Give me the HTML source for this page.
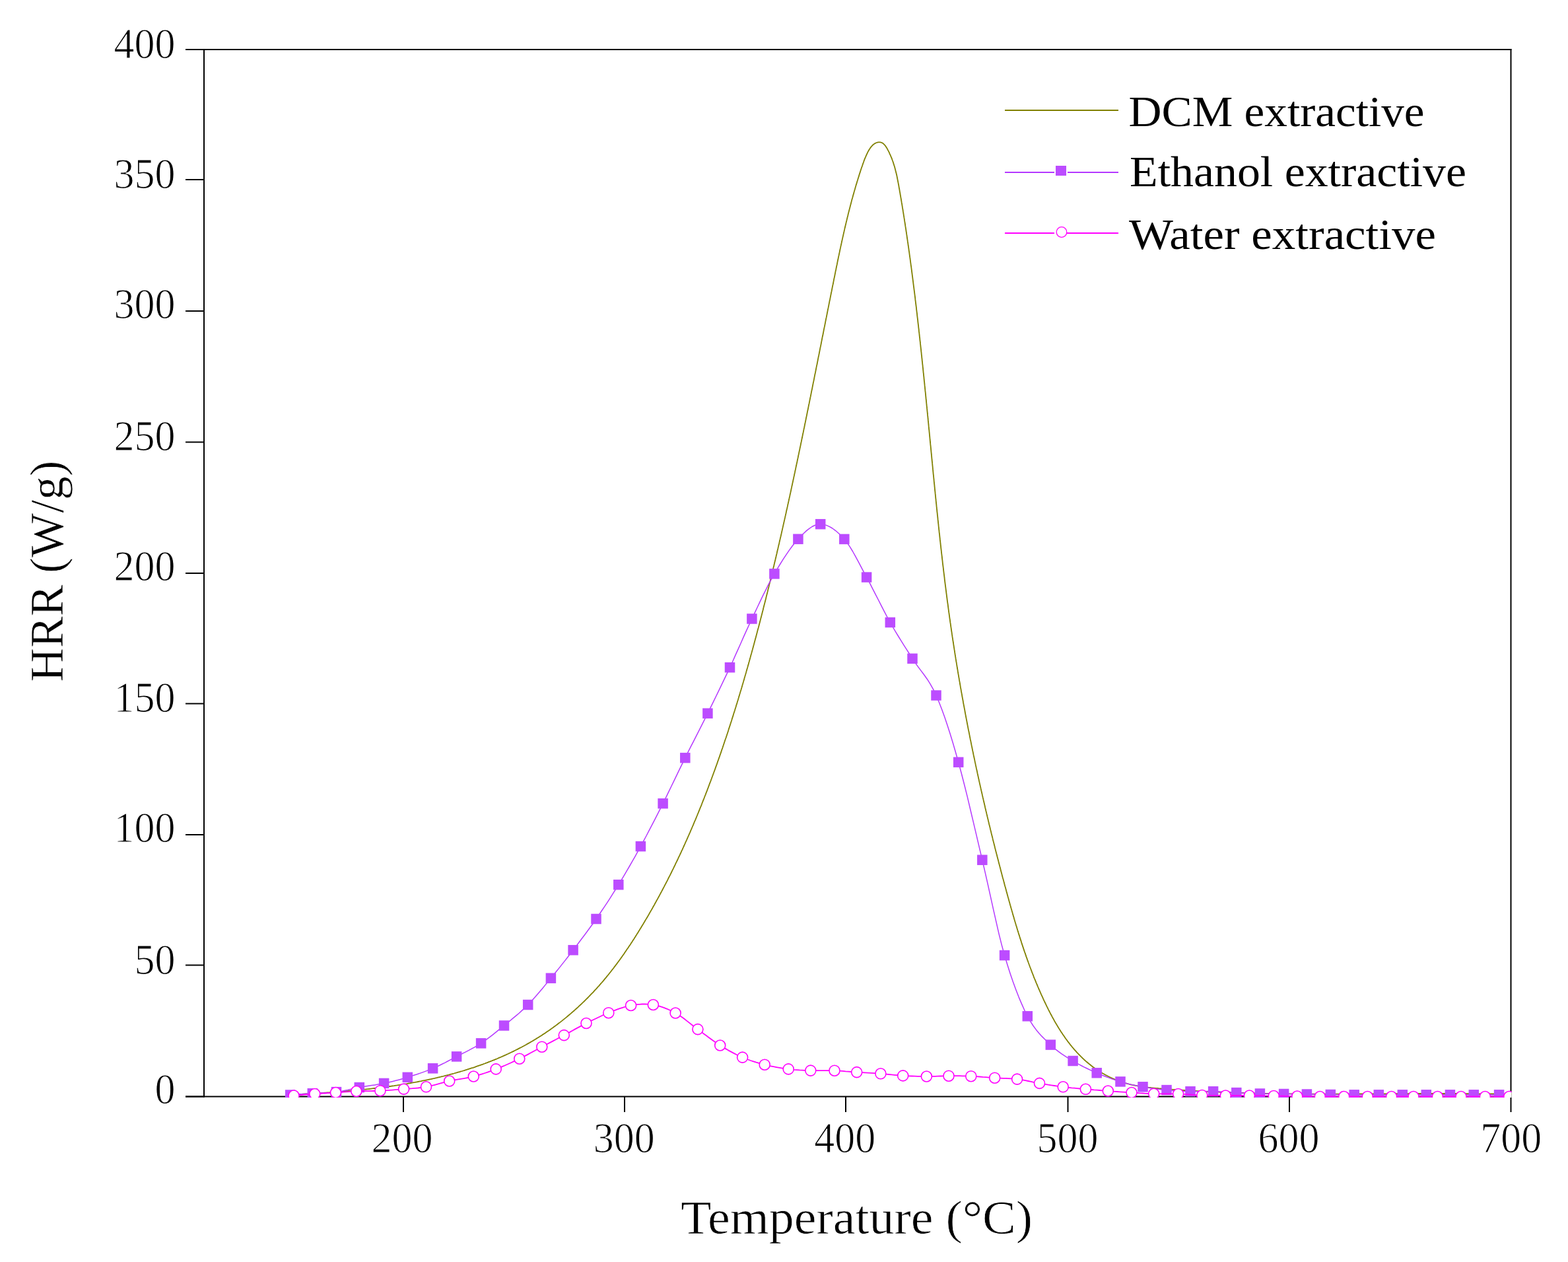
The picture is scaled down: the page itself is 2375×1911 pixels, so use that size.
<!DOCTYPE html>
<html><head><meta charset="utf-8"><title>HRR vs Temperature</title>
<style>html,body{margin:0;padding:0;background:#fff;}svg{display:block;}</style>
</head><body>
<svg width="2375" height="1911" viewBox="0 0 2375 1911">
<rect x="0" y="0" width="2375" height="1911" fill="#fff"/>
<defs><clipPath id="pc"><rect x="309.0" y="75.0" width="1980.5" height="1587.0"/></clipPath></defs>
<g stroke="#000" stroke-width="2" fill="none">
<line x1="309.0" y1="74.0" x2="309.0" y2="1661.5"/>
<line x1="2288.5" y1="74.0" x2="2288.5" y2="1661.5"/>
<line x1="281.0" y1="75.0" x2="2289.5" y2="75.0"/>
<line x1="281.0" y1="1660.5" x2="2288.5" y2="1660.5"/>
<line x1="281.0" y1="1660.5" x2="309.0" y2="1660.5"/>
<line x1="281.0" y1="1461.5" x2="309.0" y2="1461.5"/>
<line x1="281.0" y1="1264.0" x2="309.0" y2="1264.0"/>
<line x1="281.0" y1="1065.5" x2="309.0" y2="1065.5"/>
<line x1="281.0" y1="868.0" x2="309.0" y2="868.0"/>
<line x1="281.0" y1="669.5" x2="309.0" y2="669.5"/>
<line x1="281.0" y1="471.0" x2="309.0" y2="471.0"/>
<line x1="281.0" y1="272.0" x2="309.0" y2="272.0"/>
<line x1="281.0" y1="75.0" x2="309.0" y2="75.0"/>
<line x1="611.0" y1="1660.5" x2="611.0" y2="1684"/>
<line x1="946.0" y1="1660.5" x2="946.0" y2="1684"/>
<line x1="1281.0" y1="1660.5" x2="1281.0" y2="1684"/>
<line x1="1617.5" y1="1660.5" x2="1617.5" y2="1684"/>
<line x1="1953.0" y1="1660.5" x2="1953.0" y2="1684"/>
<line x1="2288.5" y1="1660.5" x2="2288.5" y2="1684"/>
</g>
<g clip-path="url(#pc)">
<polyline points="440.2,1657.7 441.8,1657.6 443.3,1657.5 444.9,1657.4 446.5,1657.4 448.0,1657.3 449.6,1657.2 451.1,1657.1 452.7,1657.0 454.3,1657.0 455.8,1656.9 457.4,1656.8 459.0,1656.7 460.5,1656.6 462.1,1656.5 463.7,1656.5 465.2,1656.4 466.8,1656.3 468.4,1656.2 469.9,1656.1 471.5,1656.0 473.1,1655.9 474.7,1655.8 476.2,1655.7 477.8,1655.6 479.4,1655.5 481.0,1655.5 482.6,1655.4 484.1,1655.3 485.7,1655.2 487.3,1655.1 488.9,1655.0 490.5,1654.8 492.0,1654.7 493.6,1654.6 495.2,1654.5 496.8,1654.4 498.4,1654.3 500.0,1654.2 501.5,1654.1 503.1,1654.0 504.7,1653.9 506.3,1653.7 507.9,1653.6 509.5,1653.5 511.1,1653.4 512.6,1653.3 514.2,1653.1 515.8,1653.0 517.4,1652.9 519.0,1652.8 520.6,1652.6 522.2,1652.5 523.8,1652.4 525.4,1652.2 527.0,1652.1 528.6,1651.9 530.1,1651.8 531.7,1651.7 533.3,1651.5 534.9,1651.4 536.5,1651.2 538.1,1651.1 539.7,1650.9 541.3,1650.8 542.9,1650.6 544.5,1650.5 546.1,1650.3 547.7,1650.1 549.2,1650.0 550.8,1649.8 552.4,1649.6 554.0,1649.5 555.6,1649.3 557.2,1649.1 558.8,1649.0 560.4,1648.8 562.0,1648.6 563.6,1648.4 565.2,1648.2 566.8,1648.0 568.4,1647.9 569.9,1647.7 571.5,1647.5 573.1,1647.3 574.7,1647.1 576.3,1646.9 577.9,1646.7 579.5,1646.5 581.1,1646.3 582.7,1646.1 584.3,1645.9 585.8,1645.6 587.4,1645.4 589.0,1645.2 590.6,1645.0 592.2,1644.8 593.8,1644.5 595.4,1644.3 597.0,1644.1 598.5,1643.8 600.1,1643.6 601.7,1643.4 603.3,1643.1 604.9,1642.9 606.5,1642.6 608.0,1642.4 609.6,1642.1 611.2,1641.9 612.8,1641.6 614.4,1641.3 615.9,1641.1 617.5,1640.8 619.1,1640.5 620.7,1640.3 622.2,1640.0 623.8,1639.7 625.4,1639.4 627.0,1639.1 628.5,1638.9 630.1,1638.6 631.7,1638.3 633.3,1638.0 634.8,1637.7 636.4,1637.4 638.0,1637.1 639.5,1636.7 641.1,1636.4 642.7,1636.1 644.2,1635.8 645.8,1635.5 647.4,1635.2 648.9,1634.8 650.5,1634.5 652.0,1634.2 653.6,1633.8 655.1,1633.5 656.7,1633.1 658.3,1632.8 659.8,1632.4 661.4,1632.1 662.9,1631.7 664.5,1631.3 666.0,1631.0 667.6,1630.6 669.1,1630.2 670.7,1629.9 672.2,1629.5 673.7,1629.1 675.3,1628.7 676.8,1628.3 678.4,1627.9 679.9,1627.5 681.4,1627.1 683.0,1626.7 684.5,1626.3 686.0,1625.9 687.6,1625.5 689.1,1625.0 690.6,1624.6 692.2,1624.2 693.7,1623.7 695.2,1623.3 696.7,1622.9 698.2,1622.4 699.8,1622.0 701.3,1621.5 702.8,1621.1 704.3,1620.6 705.8,1620.1 707.3,1619.7 708.9,1619.2 710.4,1618.7 711.9,1618.2 713.4,1617.7 714.9,1617.2 716.4,1616.8 717.9,1616.3 719.4,1615.8 720.9,1615.2 722.4,1614.7 723.9,1614.2 725.3,1613.7 726.8,1613.2 728.3,1612.6 729.8,1612.1 731.3,1611.6 732.8,1611.0 734.3,1610.5 735.7,1609.9 737.2,1609.4 738.7,1608.8 740.2,1608.2 741.6,1607.7 743.1,1607.1 744.6,1606.5 746.0,1605.9 747.5,1605.4 748.9,1604.8 750.4,1604.2 751.9,1603.6 753.3,1603.0 754.8,1602.3 756.2,1601.7 757.7,1601.1 759.1,1600.5 760.5,1599.9 762.0,1599.2 763.4,1598.6 764.9,1597.9 766.3,1597.3 767.7,1596.6 769.2,1596.0 770.6,1595.3 772.0,1594.6 773.4,1594.0 774.8,1593.3 776.3,1592.6 777.7,1591.9 779.1,1591.2 780.5,1590.5 781.9,1589.8 783.3,1589.1 784.7,1588.4 786.1,1587.6 787.5,1586.9 788.9,1586.2 790.3,1585.5 791.7,1584.7 793.1,1584.0 794.5,1583.2 795.9,1582.5 797.2,1581.7 798.6,1580.9 800.0,1580.1 801.4,1579.4 802.7,1578.6 804.1,1577.8 805.5,1577.0 806.8,1576.2 808.2,1575.4 809.5,1574.6 810.9,1573.8 812.2,1572.9 813.6,1572.1 814.9,1571.3 816.3,1570.4 817.6,1569.6 819.0,1568.7 820.3,1567.9 821.6,1567.0 822.9,1566.1 824.3,1565.3 825.6,1564.4 826.9,1563.5 828.2,1562.6 829.5,1561.7 830.9,1560.8 832.2,1559.9 833.5,1559.0 834.8,1558.1 836.1,1557.1 837.4,1556.2 838.6,1555.3 839.9,1554.3 841.2,1553.4 842.5,1552.4 843.8,1551.5 845.0,1550.5 846.3,1549.5 847.6,1548.6 848.9,1547.6 850.1,1546.6 851.4,1545.6 852.6,1544.6 853.9,1543.6 855.1,1542.6 856.4,1541.6 857.6,1540.6 858.8,1539.6 860.1,1538.5 861.3,1537.5 862.5,1536.5 863.8,1535.4 865.0,1534.4 866.2,1533.3 867.4,1532.3 868.6,1531.2 869.8,1530.2 871.0,1529.1 872.2,1528.0 873.4,1527.0 874.6,1525.9 875.8,1524.8 876.9,1523.7 878.1,1522.6 879.3,1521.5 880.5,1520.4 881.6,1519.3 882.8,1518.2 883.9,1517.1 885.1,1516.0 886.2,1514.9 887.4,1513.7 888.5,1512.6 889.6,1511.5 890.8,1510.3 891.9,1509.2 893.0,1508.0 894.1,1506.9 895.2,1505.7 896.3,1504.6 897.5,1503.4 898.6,1502.3 899.6,1501.1 900.7,1499.9 901.8,1498.7 902.9,1497.6 904.0,1496.4 905.0,1495.2 906.1,1494.0 907.2,1492.8 908.2,1491.6 909.3,1490.4 910.3,1489.2 911.4,1488.0 912.4,1486.8 913.5,1485.6 914.5,1484.4 915.5,1483.1 916.5,1481.9 917.6,1480.7 918.6,1479.4 919.6,1478.2 920.6,1477.0 921.6,1475.7 922.6,1474.5 923.6,1473.2 924.6,1472.0 925.6,1470.7 926.5,1469.5 927.5,1468.2 928.5,1467.0 929.5,1465.7 930.4,1464.4 931.4,1463.2 932.4,1461.9 933.3,1460.6 934.3,1459.4 935.2,1458.1 936.2,1456.8 937.1,1455.5 938.1,1454.2 939.0,1452.9 939.9,1451.7 940.8,1450.4 941.8,1449.1 942.7,1447.8 943.6,1446.5 944.5,1445.2 945.4,1443.9 946.3,1442.5 947.2,1441.2 948.1,1439.9 949.0,1438.6 949.9,1437.3 950.8,1436.0 951.7,1434.7 952.6,1433.3 953.5,1432.0 954.4,1430.7 955.3,1429.4 956.1,1428.0 957.0,1426.7 957.9,1425.4 958.7,1424.0 959.6,1422.7 960.5,1421.4 961.3,1420.0 962.2,1418.7 963.0,1417.3 963.9,1416.0 964.7,1414.6 965.6,1413.3 966.4,1412.0 967.2,1410.6 968.1,1409.3 968.9,1407.9 969.7,1406.5 970.6,1405.2 971.4,1403.8 972.2,1402.5 973.1,1401.1 973.9,1399.8 974.7,1398.4 975.5,1397.0 976.3,1395.7 977.1,1394.3 977.9,1392.9 978.7,1391.6 979.6,1390.2 980.4,1388.8 981.2,1387.5 982.0,1386.1 982.8,1384.7 983.5,1383.4 984.3,1382.0 985.1,1380.6 985.9,1379.2 986.7,1377.9 987.5,1376.5 988.3,1375.1 989.0,1373.7 989.8,1372.3 990.6,1371.0 991.4,1369.6 992.1,1368.2 992.9,1366.8 993.7,1365.4 994.4,1364.0 995.2,1362.6 996.0,1361.2 996.7,1359.9 997.5,1358.5 998.2,1357.1 999.0,1355.7 999.7,1354.3 1000.5,1352.9 1001.2,1351.5 1002.0,1350.1 1002.7,1348.7 1003.5,1347.3 1004.2,1345.9 1004.9,1344.5 1005.7,1343.1 1006.4,1341.7 1007.1,1340.3 1007.9,1338.9 1008.6,1337.5 1009.3,1336.1 1010.1,1334.7 1010.8,1333.3 1011.5,1331.9 1012.2,1330.4 1012.9,1329.0 1013.6,1327.6 1014.4,1326.2 1015.1,1324.8 1015.8,1323.4 1016.5,1322.0 1017.2,1320.5 1017.9,1319.1 1018.6,1317.7 1019.3,1316.3 1020.0,1314.9 1020.7,1313.4 1021.4,1312.0 1022.1,1310.6 1022.8,1309.2 1023.4,1307.7 1024.1,1306.3 1024.8,1304.9 1025.5,1303.5 1026.2,1302.0 1026.9,1300.6 1027.5,1299.2 1028.2,1297.7 1028.9,1296.3 1029.6,1294.9 1030.2,1293.5 1030.9,1292.0 1031.6,1290.6 1032.2,1289.1 1032.9,1287.7 1033.6,1286.3 1034.2,1284.8 1034.9,1283.4 1035.5,1282.0 1036.2,1280.5 1036.8,1279.1 1037.5,1277.6 1038.1,1276.2 1038.8,1274.7 1039.4,1273.3 1040.1,1271.8 1040.7,1270.4 1041.4,1269.0 1042.0,1267.5 1042.6,1266.1 1043.3,1264.6 1043.9,1263.2 1044.6,1261.7 1045.2,1260.3 1045.8,1258.8 1046.4,1257.3 1047.1,1255.9 1047.7,1254.4 1048.3,1253.0 1048.9,1251.5 1049.6,1250.1 1050.2,1248.6 1050.8,1247.1 1051.4,1245.7 1052.0,1244.2 1052.6,1242.8 1053.3,1241.3 1053.9,1239.8 1054.5,1238.4 1055.1,1236.9 1055.7,1235.5 1056.3,1234.0 1056.9,1232.5 1057.5,1231.1 1058.1,1229.6 1058.7,1228.1 1059.3,1226.6 1059.9,1225.2 1060.5,1223.7 1061.1,1222.2 1061.7,1220.8 1062.3,1219.3 1062.9,1217.8 1063.4,1216.3 1064.0,1214.9 1064.6,1213.4 1065.2,1211.9 1065.8,1210.4 1066.4,1209.0 1066.9,1207.5 1067.5,1206.0 1068.1,1204.5 1068.7,1203.1 1069.2,1201.6 1069.8,1200.1 1070.4,1198.6 1071.0,1197.1 1071.5,1195.6 1072.1,1194.2 1072.7,1192.7 1073.2,1191.2 1073.8,1189.7 1074.3,1188.2 1074.9,1186.7 1075.5,1185.2 1076.0,1183.8 1076.6,1182.3 1077.1,1180.8 1077.7,1179.3 1078.2,1177.8 1078.8,1176.3 1079.3,1174.8 1079.9,1173.3 1080.4,1171.8 1081.0,1170.3 1081.5,1168.8 1082.1,1167.4 1082.6,1165.9 1083.2,1164.4 1083.7,1162.9 1084.2,1161.4 1084.8,1159.9 1085.3,1158.4 1085.9,1156.9 1086.4,1155.4 1086.9,1153.9 1087.4,1152.4 1088.0,1150.9 1088.5,1149.4 1089.0,1147.9 1089.6,1146.4 1090.1,1144.9 1090.6,1143.4 1091.1,1141.9 1091.7,1140.4 1092.2,1138.9 1092.7,1137.4 1093.2,1135.8 1093.7,1134.3 1094.3,1132.8 1094.8,1131.3 1095.3,1129.8 1095.8,1128.3 1096.3,1126.8 1096.8,1125.3 1097.3,1123.8 1097.8,1122.3 1098.3,1120.8 1098.8,1119.3 1099.4,1117.7 1099.9,1116.2 1100.4,1114.7 1100.9,1113.2 1101.4,1111.7 1101.9,1110.2 1102.4,1108.7 1102.9,1107.2 1103.4,1105.6 1103.8,1104.1 1104.3,1102.6 1104.8,1101.1 1105.3,1099.6 1105.8,1098.1 1106.3,1096.5 1106.8,1095.0 1107.3,1093.5 1107.8,1092.0 1108.3,1090.5 1108.7,1088.9 1109.2,1087.4 1109.7,1085.9 1110.2,1084.4 1110.7,1082.9 1111.1,1081.3 1111.6,1079.8 1112.1,1078.3 1112.6,1076.8 1113.1,1075.3 1113.5,1073.7 1114.0,1072.2 1114.5,1070.7 1114.9,1069.2 1115.4,1067.6 1115.9,1066.1 1116.4,1064.6 1116.8,1063.1 1117.3,1061.5 1117.8,1060.0 1118.2,1058.5 1118.7,1057.0 1119.1,1055.4 1119.6,1053.9 1120.1,1052.4 1120.5,1050.8 1121.0,1049.3 1121.4,1047.8 1121.9,1046.3 1122.4,1044.7 1122.8,1043.2 1123.3,1041.7 1123.7,1040.1 1124.2,1038.6 1124.6,1037.1 1125.1,1035.5 1125.5,1034.0 1126.0,1032.5 1126.4,1030.9 1126.9,1029.4 1127.3,1027.9 1127.7,1026.3 1128.2,1024.8 1128.6,1023.3 1129.1,1021.7 1129.5,1020.2 1130.0,1018.7 1130.4,1017.1 1130.8,1015.6 1131.3,1014.1 1131.7,1012.5 1132.2,1011.0 1132.6,1009.5 1133.0,1007.9 1133.5,1006.4 1133.9,1004.9 1134.3,1003.3 1134.8,1001.8 1135.2,1000.2 1135.6,998.7 1136.0,997.2 1136.5,995.6 1136.9,994.1 1137.3,992.6 1137.7,991.0 1138.2,989.5 1138.6,987.9 1139.0,986.4 1139.4,984.9 1139.9,983.3 1140.3,981.8 1140.7,980.2 1141.1,978.7 1141.5,977.2 1142.0,975.6 1142.4,974.1 1142.8,972.5 1143.2,971.0 1143.6,969.5 1144.0,967.9 1144.5,966.4 1144.9,964.8 1145.3,963.3 1145.7,961.8 1146.1,960.2 1146.5,958.7 1146.9,957.1 1147.3,955.6 1147.7,954.1 1148.1,952.5 1148.6,951.0 1149.0,949.4 1149.4,947.9 1149.8,946.3 1150.2,944.8 1150.6,943.3 1151.0,941.7 1151.4,940.2 1151.8,938.6 1152.2,937.1 1152.6,935.5 1153.0,934.0 1153.4,932.5 1153.8,930.9 1154.2,929.4 1154.6,927.8 1155.0,926.3 1155.4,924.7 1155.8,923.2 1156.1,921.7 1156.5,920.1 1156.9,918.6 1157.3,917.0 1157.7,915.5 1158.1,913.9 1158.5,912.4 1158.9,910.8 1159.3,909.3 1159.7,907.8 1160.1,906.2 1160.4,904.7 1160.8,903.1 1161.2,901.6 1161.6,900.0 1162.0,898.5 1162.4,896.9 1162.8,895.4 1163.1,893.9 1163.5,892.3 1163.9,890.8 1164.3,889.2 1164.7,887.7 1165.0,886.1 1165.4,884.6 1165.8,883.0 1166.2,881.5 1166.6,879.9 1166.9,878.4 1167.3,876.8 1167.7,875.3 1168.1,873.8 1168.4,872.2 1168.8,870.7 1169.2,869.1 1169.6,867.6 1169.9,866.0 1170.3,864.5 1170.7,862.9 1171.0,861.4 1171.4,859.8 1171.8,858.3 1172.2,856.7 1172.5,855.2 1172.9,853.6 1173.3,852.1 1173.6,850.6 1174.0,849.0 1174.4,847.5 1174.7,845.9 1175.1,844.4 1175.5,842.8 1175.8,841.3 1176.2,839.7 1176.6,838.2 1176.9,836.6 1177.3,835.1 1177.6,833.5 1178.0,832.0 1178.4,830.4 1178.7,828.9 1179.1,827.3 1179.4,825.8 1179.8,824.2 1180.2,822.7 1180.5,821.1 1180.9,819.6 1181.2,818.0 1181.6,816.5 1181.9,814.9 1182.3,813.4 1182.7,811.8 1183.0,810.3 1183.4,808.7 1183.7,807.2 1184.1,805.6 1184.4,804.1 1184.8,802.5 1185.1,801.0 1185.5,799.4 1185.8,797.9 1186.2,796.3 1186.5,794.8 1186.9,793.2 1187.2,791.7 1187.6,790.1 1187.9,788.6 1188.3,787.0 1188.6,785.5 1189.0,783.9 1189.3,782.4 1189.7,780.8 1190.0,779.3 1190.4,777.7 1190.7,776.2 1191.0,774.6 1191.4,773.1 1191.7,771.5 1192.1,770.0 1192.4,768.4 1192.8,766.9 1193.1,765.3 1193.4,763.8 1193.8,762.2 1194.1,760.7 1194.5,759.1 1194.8,757.6 1195.1,756.0 1195.5,754.5 1195.8,752.9 1196.2,751.4 1196.5,749.8 1196.8,748.3 1197.2,746.7 1197.5,745.2 1197.9,743.6 1198.2,742.1 1198.5,740.5 1198.9,738.9 1199.2,737.4 1199.5,735.8 1199.9,734.3 1200.2,732.7 1200.5,731.2 1200.9,729.6 1201.2,728.1 1201.5,726.5 1201.9,725.0 1202.2,723.4 1202.5,721.9 1202.9,720.3 1203.2,718.8 1203.5,717.2 1203.9,715.7 1204.2,714.1 1204.5,712.5 1204.9,711.0 1205.2,709.4 1205.5,707.9 1205.8,706.3 1206.2,704.8 1206.5,703.2 1206.8,701.7 1207.2,700.1 1207.5,698.6 1207.8,697.0 1208.1,695.5 1208.5,693.9 1208.8,692.3 1209.1,690.8 1209.4,689.2 1209.8,687.7 1210.1,686.1 1210.4,684.6 1210.7,683.0 1211.1,681.5 1211.4,679.9 1211.7,678.4 1212.0,676.8 1212.4,675.2 1212.7,673.7 1213.0,672.1 1213.3,670.6 1213.7,669.0 1214.0,667.5 1214.3,665.9 1214.6,664.4 1215.0,662.8 1215.3,661.2 1215.6,659.7 1215.9,658.1 1216.2,656.6 1216.6,655.0 1216.9,653.5 1217.2,651.9 1217.5,650.4 1217.8,648.8 1218.2,647.2 1218.5,645.7 1218.8,644.1 1219.1,642.6 1219.4,641.0 1219.8,639.5 1220.1,637.9 1220.4,636.4 1220.7,634.8 1221.0,633.2 1221.3,631.7 1221.7,630.1 1222.0,628.6 1222.3,627.0 1222.6,625.5 1222.9,623.9 1223.2,622.3 1223.6,620.8 1223.9,619.2 1224.2,617.7 1224.5,616.1 1224.8,614.6 1225.1,613.0 1225.5,611.4 1225.8,609.9 1226.1,608.3 1226.4,606.8 1226.7,605.2 1227.0,603.7 1227.3,602.1 1227.7,600.5 1228.0,599.0 1228.3,597.4 1228.6,595.9 1228.9,594.3 1229.2,592.8 1229.5,591.2 1229.9,589.6 1230.2,588.1 1230.5,586.5 1230.8,585.0 1231.1,583.4 1231.4,581.9 1231.7,580.3 1232.0,578.7 1232.4,577.2 1232.7,575.6 1233.0,574.1 1233.3,572.5 1233.6,570.9 1233.9,569.4 1234.2,567.8 1234.5,566.3 1234.9,564.7 1235.2,563.2 1235.5,561.6 1235.8,560.0 1236.1,558.5 1236.4,556.9 1236.7,555.4 1237.0,553.8 1237.4,552.2 1237.7,550.7 1238.0,549.1 1238.3,547.6 1238.6,546.0 1238.9,544.4 1239.2,542.9 1239.5,541.3 1239.8,539.8 1240.2,538.2 1240.5,536.6 1240.8,535.1 1241.1,533.5 1241.4,532.0 1241.7,530.4 1242.0,528.9 1242.3,527.3 1242.6,525.7 1243.0,524.2 1243.3,522.6 1243.6,521.1 1243.9,519.5 1244.2,517.9 1244.5,516.4 1244.8,514.8 1245.1,513.3 1245.4,511.7 1245.7,510.1 1246.1,508.6 1246.4,507.0 1246.7,505.5 1247.0,503.9 1247.3,502.3 1247.6,500.8 1247.9,499.2 1248.2,497.7 1248.5,496.1 1248.9,494.5 1249.2,493.0 1249.5,491.4 1249.8,489.9 1250.1,488.3 1250.4,486.7 1250.7,485.2 1251.0,483.6 1251.3,482.1 1251.7,480.5 1252.0,478.9 1252.3,477.4 1252.6,475.8 1252.9,474.2 1253.2,472.7 1253.5,471.1 1253.8,469.6 1254.1,468.0 1254.5,466.4 1254.8,464.9 1255.1,463.3 1255.4,461.8 1255.7,460.2 1256.0,458.6 1256.3,457.1 1256.6,455.5 1257.0,454.0 1257.3,452.4 1257.6,450.8 1257.9,449.3 1258.2,447.7 1258.5,446.2 1258.8,444.6 1259.1,443.0 1259.5,441.5 1259.8,439.9 1260.1,438.3 1260.4,436.8 1260.7,435.2 1261.0,433.7 1261.3,432.1 1261.7,430.5 1262.0,429.0 1262.3,427.4 1262.6,425.9 1262.9,424.3 1263.2,422.7 1263.5,421.2 1263.9,419.6 1264.2,418.0 1264.5,416.5 1264.8,414.9 1265.1,413.4 1265.4,411.8 1265.7,410.2 1266.1,408.7 1266.4,407.1 1266.7,405.5 1267.0,404.0 1267.3,402.4 1267.7,400.9 1268.0,399.3 1268.3,397.7 1268.6,396.2 1268.9,394.6 1269.3,393.1 1269.6,391.5 1269.9,389.9 1270.2,388.4 1270.6,386.8 1270.9,385.3 1271.2,383.7 1271.6,382.1 1271.9,380.6 1272.2,379.0 1272.5,377.5 1272.9,375.9 1273.2,374.4 1273.5,372.8 1273.9,371.2 1274.2,369.7 1274.6,368.1 1274.9,366.6 1275.2,365.0 1275.6,363.5 1275.9,361.9 1276.3,360.3 1276.6,358.8 1277.0,357.2 1277.3,355.7 1277.7,354.1 1278.0,352.6 1278.4,351.0 1278.7,349.5 1279.1,347.9 1279.4,346.4 1279.8,344.8 1280.2,343.3 1280.5,341.7 1280.9,340.2 1281.3,338.6 1281.6,337.1 1282.0,335.5 1282.4,334.0 1282.7,332.4 1283.1,330.9 1283.5,329.3 1283.9,327.8 1284.3,326.2 1284.6,324.7 1285.0,323.1 1285.4,321.6 1285.8,320.0 1286.2,318.5 1286.6,317.0 1287.0,315.4 1287.4,313.9 1287.8,312.3 1288.2,310.8 1288.6,309.2 1289.0,307.7 1289.4,306.2 1289.8,304.6 1290.2,303.1 1290.6,301.6 1291.1,300.0 1291.5,298.5 1291.9,297.0 1292.3,295.4 1292.8,293.9 1293.2,292.4 1293.6,290.8 1294.1,289.3 1294.5,287.8 1295.0,286.2 1295.4,284.7 1295.8,283.2 1296.3,281.6 1296.7,280.1 1297.2,278.6 1297.7,277.1 1298.1,275.5 1298.6,274.0 1299.1,272.5 1299.5,271.0 1300.0,269.5 1300.5,267.9 1301.0,266.4 1301.4,264.9 1301.9,263.4 1302.4,261.9 1302.9,260.4 1303.4,258.8 1303.9,257.3 1304.4,255.8 1304.9,254.3 1305.4,252.8 1306.0,251.3 1306.5,249.8 1307.0,248.3 1307.5,246.8 1308.1,245.3 1308.6,243.7 1309.2,242.2 1309.7,240.8 1310.3,239.3 1311.0,237.8 1311.6,236.3 1312.3,234.8 1313.0,233.3 1313.7,231.8 1314.4,230.4 1315.2,228.9 1316.0,227.5 1316.9,226.0 1317.8,224.7 1318.7,223.3 1319.7,222.1 1320.8,220.9 1321.8,219.8 1323.0,218.8 1324.2,217.9 1325.4,217.1 1326.6,216.5 1327.9,216.0 1329.2,215.6 1330.4,215.4 1331.7,215.3 1333.0,215.4 1334.2,215.6 1335.4,216.0 1336.6,216.6 1337.7,217.3 1338.8,218.3 1339.8,219.3 1340.8,220.5 1341.7,221.8 1342.6,223.2 1343.5,224.6 1344.3,226.1 1345.1,227.7 1345.9,229.2 1346.7,230.7 1347.4,232.3 1348.1,233.8 1348.8,235.3 1349.4,236.9 1350.1,238.4 1350.7,239.9 1351.3,241.5 1351.8,243.0 1352.4,244.5 1352.9,246.1 1353.4,247.6 1353.9,249.2 1354.4,250.7 1354.9,252.2 1355.3,253.8 1355.7,255.3 1356.1,256.9 1356.5,258.4 1356.9,259.9 1357.3,261.5 1357.7,263.0 1358.0,264.6 1358.4,266.1 1358.7,267.7 1359.0,269.2 1359.3,270.7 1359.6,272.3 1359.9,273.8 1360.2,275.4 1360.5,276.9 1360.8,278.5 1361.1,280.0 1361.4,281.6 1361.6,283.1 1361.9,284.7 1362.2,286.2 1362.5,287.8 1362.7,289.3 1363.0,290.9 1363.3,292.4 1363.5,294.0 1363.8,295.5 1364.1,297.1 1364.3,298.6 1364.6,300.2 1364.9,301.7 1365.1,303.3 1365.4,304.8 1365.6,306.4 1365.9,307.9 1366.2,309.5 1366.4,311.0 1366.7,312.6 1366.9,314.2 1367.2,315.7 1367.4,317.3 1367.7,318.8 1367.9,320.4 1368.2,321.9 1368.4,323.5 1368.7,325.1 1368.9,326.6 1369.2,328.2 1369.4,329.7 1369.7,331.3 1369.9,332.9 1370.1,334.4 1370.4,336.0 1370.6,337.5 1370.9,339.1 1371.1,340.7 1371.3,342.2 1371.6,343.8 1371.8,345.3 1372.1,346.9 1372.3,348.5 1372.5,350.0 1372.8,351.6 1373.0,353.2 1373.2,354.7 1373.5,356.3 1373.7,357.9 1373.9,359.4 1374.1,361.0 1374.4,362.6 1374.6,364.1 1374.8,365.7 1375.1,367.3 1375.3,368.8 1375.5,370.4 1375.7,372.0 1376.0,373.5 1376.2,375.1 1376.4,376.7 1376.6,378.2 1376.8,379.8 1377.1,381.4 1377.3,382.9 1377.5,384.5 1377.7,386.1 1377.9,387.7 1378.1,389.2 1378.4,390.8 1378.6,392.4 1378.8,393.9 1379.0,395.5 1379.2,397.1 1379.4,398.7 1379.6,400.2 1379.8,401.8 1380.1,403.4 1380.3,405.0 1380.5,406.5 1380.7,408.1 1380.9,409.7 1381.1,411.3 1381.3,412.8 1381.5,414.4 1381.7,416.0 1381.9,417.6 1382.1,419.1 1382.3,420.7 1382.5,422.3 1382.7,423.9 1382.9,425.4 1383.1,427.0 1383.3,428.6 1383.5,430.2 1383.7,431.8 1383.9,433.3 1384.1,434.9 1384.3,436.5 1384.5,438.1 1384.7,439.6 1384.9,441.2 1385.1,442.8 1385.3,444.4 1385.5,446.0 1385.7,447.5 1385.9,449.1 1386.1,450.7 1386.3,452.3 1386.4,453.9 1386.6,455.4 1386.8,457.0 1387.0,458.6 1387.2,460.2 1387.4,461.8 1387.6,463.4 1387.8,464.9 1388.0,466.5 1388.1,468.1 1388.3,469.7 1388.5,471.3 1388.7,472.8 1388.9,474.4 1389.1,476.0 1389.2,477.6 1389.4,479.2 1389.6,480.8 1389.8,482.3 1390.0,483.9 1390.2,485.5 1390.3,487.1 1390.5,488.7 1390.7,490.3 1390.9,491.9 1391.1,493.4 1391.2,495.0 1391.4,496.6 1391.6,498.2 1391.8,499.8 1391.9,501.4 1392.1,502.9 1392.3,504.5 1392.5,506.1 1392.6,507.7 1392.8,509.3 1393.0,510.9 1393.2,512.5 1393.3,514.0 1393.5,515.6 1393.7,517.2 1393.9,518.8 1394.0,520.4 1394.2,522.0 1394.4,523.6 1394.5,525.2 1394.7,526.7 1394.9,528.3 1395.1,529.9 1395.2,531.5 1395.4,533.1 1395.6,534.7 1395.7,536.3 1395.9,537.9 1396.1,539.4 1396.2,541.0 1396.4,542.6 1396.6,544.2 1396.7,545.8 1396.9,547.4 1397.1,549.0 1397.2,550.6 1397.4,552.1 1397.6,553.7 1397.7,555.3 1397.9,556.9 1398.1,558.5 1398.2,560.1 1398.4,561.7 1398.5,563.3 1398.7,564.9 1398.9,566.4 1399.0,568.0 1399.2,569.6 1399.4,571.2 1399.5,572.8 1399.7,574.4 1399.8,576.0 1400.0,577.6 1400.2,579.2 1400.3,580.7 1400.5,582.3 1400.6,583.9 1400.8,585.5 1401.0,587.1 1401.1,588.7 1401.3,590.3 1401.4,591.9 1401.6,593.5 1401.8,595.0 1401.9,596.6 1402.1,598.2 1402.2,599.8 1402.4,601.4 1402.5,603.0 1402.7,604.6 1402.9,606.2 1403.0,607.8 1403.2,609.4 1403.3,610.9 1403.5,612.5 1403.6,614.1 1403.8,615.7 1404.0,617.3 1404.1,618.9 1404.3,620.5 1404.4,622.1 1404.6,623.7 1404.7,625.2 1404.9,626.8 1405.0,628.4 1405.2,630.0 1405.4,631.6 1405.5,633.2 1405.7,634.8 1405.8,636.4 1406.0,638.0 1406.1,639.5 1406.3,641.1 1406.4,642.7 1406.6,644.3 1406.7,645.9 1406.9,647.5 1407.0,649.1 1407.2,650.7 1407.4,652.2 1407.5,653.8 1407.7,655.4 1407.8,657.0 1408.0,658.6 1408.1,660.2 1408.3,661.8 1408.4,663.4 1408.6,664.9 1408.7,666.5 1408.9,668.1 1409.0,669.7 1409.2,671.3 1409.3,672.9 1409.5,674.5 1409.7,676.1 1409.8,677.6 1410.0,679.2 1410.1,680.8 1410.3,682.4 1410.4,684.0 1410.6,685.6 1410.7,687.2 1410.9,688.8 1411.0,690.3 1411.2,691.9 1411.3,693.5 1411.5,695.1 1411.6,696.7 1411.8,698.3 1412.0,699.8 1412.1,701.4 1412.3,703.0 1412.4,704.6 1412.6,706.2 1412.7,707.8 1412.9,709.4 1413.0,710.9 1413.2,712.5 1413.3,714.1 1413.5,715.7 1413.6,717.3 1413.8,718.9 1414.0,720.5 1414.1,722.0 1414.3,723.6 1414.4,725.2 1414.6,726.8 1414.7,728.4 1414.9,730.0 1415.0,731.5 1415.2,733.1 1415.4,734.7 1415.5,736.3 1415.7,737.9 1415.8,739.5 1416.0,741.0 1416.1,742.6 1416.3,744.2 1416.5,745.8 1416.6,747.4 1416.8,749.0 1416.9,750.5 1417.1,752.1 1417.2,753.7 1417.4,755.3 1417.6,756.9 1417.7,758.4 1417.9,760.0 1418.0,761.6 1418.2,763.2 1418.4,764.8 1418.5,766.4 1418.7,767.9 1418.8,769.5 1419.0,771.1 1419.2,772.7 1419.3,774.3 1419.5,775.8 1419.7,777.4 1419.8,779.0 1420.0,780.6 1420.2,782.2 1420.3,783.7 1420.5,785.3 1420.6,786.9 1420.8,788.5 1421.0,790.1 1421.1,791.6 1421.3,793.2 1421.5,794.8 1421.6,796.4 1421.8,798.0 1422.0,799.5 1422.1,801.1 1422.3,802.7 1422.5,804.3 1422.6,805.9 1422.8,807.4 1423.0,809.0 1423.2,810.6 1423.3,812.2 1423.5,813.8 1423.7,815.3 1423.8,816.9 1424.0,818.5 1424.2,820.1 1424.4,821.6 1424.5,823.2 1424.7,824.8 1424.9,826.4 1425.1,828.0 1425.2,829.5 1425.4,831.1 1425.6,832.7 1425.8,834.3 1425.9,835.8 1426.1,837.4 1426.3,839.0 1426.5,840.6 1426.7,842.2 1426.8,843.7 1427.0,845.3 1427.2,846.9 1427.4,848.5 1427.6,850.0 1427.7,851.6 1427.9,853.2 1428.1,854.8 1428.3,856.3 1428.5,857.9 1428.7,859.5 1428.9,861.1 1429.0,862.7 1429.2,864.2 1429.4,865.8 1429.6,867.4 1429.8,869.0 1430.0,870.5 1430.2,872.1 1430.4,873.7 1430.6,875.3 1430.7,876.8 1430.9,878.4 1431.1,880.0 1431.3,881.6 1431.5,883.1 1431.7,884.7 1431.9,886.3 1432.1,887.9 1432.3,889.4 1432.5,891.0 1432.7,892.6 1432.9,894.2 1433.1,895.7 1433.3,897.3 1433.5,898.9 1433.7,900.4 1433.9,902.0 1434.1,903.6 1434.3,905.2 1434.5,906.7 1434.7,908.3 1434.9,909.9 1435.1,911.5 1435.3,913.0 1435.6,914.6 1435.8,916.2 1436.0,917.8 1436.2,919.3 1436.4,920.9 1436.6,922.5 1436.8,924.0 1437.0,925.6 1437.2,927.2 1437.5,928.8 1437.7,930.3 1437.9,931.9 1438.1,933.5 1438.3,935.1 1438.5,936.6 1438.8,938.2 1439.0,939.8 1439.2,941.3 1439.4,942.9 1439.7,944.5 1439.9,946.1 1440.1,947.6 1440.3,949.2 1440.6,950.8 1440.8,952.3 1441.0,953.9 1441.2,955.5 1441.5,957.1 1441.7,958.6 1441.9,960.2 1442.2,961.8 1442.4,963.3 1442.6,964.9 1442.9,966.5 1443.1,968.0 1443.3,969.6 1443.6,971.2 1443.8,972.8 1444.1,974.3 1444.3,975.9 1444.5,977.5 1444.8,979.0 1445.0,980.6 1445.3,982.2 1445.5,983.7 1445.8,985.3 1446.0,986.9 1446.2,988.4 1446.5,990.0 1446.7,991.6 1447.0,993.2 1447.2,994.7 1447.5,996.3 1447.7,997.9 1448.0,999.4 1448.2,1001.0 1448.5,1002.6 1448.8,1004.1 1449.0,1005.7 1449.3,1007.3 1449.5,1008.8 1449.8,1010.4 1450.0,1012.0 1450.3,1013.5 1450.6,1015.1 1450.8,1016.7 1451.1,1018.2 1451.3,1019.8 1451.6,1021.4 1451.9,1022.9 1452.1,1024.5 1452.4,1026.1 1452.7,1027.6 1452.9,1029.2 1453.2,1030.8 1453.5,1032.4 1453.8,1033.9 1454.0,1035.5 1454.3,1037.1 1454.6,1038.6 1454.8,1040.2 1455.1,1041.7 1455.4,1043.3 1455.7,1044.9 1455.9,1046.4 1456.2,1048.0 1456.5,1049.6 1456.8,1051.1 1457.1,1052.7 1457.3,1054.3 1457.6,1055.8 1457.9,1057.4 1458.2,1059.0 1458.5,1060.5 1458.8,1062.1 1459.0,1063.7 1459.3,1065.2 1459.6,1066.8 1459.9,1068.4 1460.2,1069.9 1460.5,1071.5 1460.8,1073.1 1461.1,1074.6 1461.4,1076.2 1461.6,1077.8 1461.9,1079.3 1462.2,1080.9 1462.5,1082.4 1462.8,1084.0 1463.1,1085.6 1463.4,1087.1 1463.7,1088.7 1464.0,1090.3 1464.3,1091.8 1464.6,1093.4 1464.9,1095.0 1465.2,1096.5 1465.5,1098.1 1465.8,1099.6 1466.1,1101.2 1466.4,1102.8 1466.7,1104.3 1467.0,1105.9 1467.4,1107.5 1467.7,1109.0 1468.0,1110.6 1468.3,1112.1 1468.6,1113.7 1468.9,1115.3 1469.2,1116.8 1469.5,1118.4 1469.8,1120.0 1470.2,1121.5 1470.5,1123.1 1470.8,1124.6 1471.1,1126.2 1471.4,1127.8 1471.7,1129.3 1472.1,1130.9 1472.4,1132.5 1472.7,1134.0 1473.0,1135.6 1473.3,1137.1 1473.7,1138.7 1474.0,1140.3 1474.3,1141.8 1474.6,1143.4 1475.0,1144.9 1475.3,1146.5 1475.6,1148.1 1476.0,1149.6 1476.3,1151.2 1476.6,1152.8 1476.9,1154.3 1477.3,1155.9 1477.6,1157.4 1477.9,1159.0 1478.3,1160.6 1478.6,1162.1 1478.9,1163.7 1479.3,1165.2 1479.6,1166.8 1480.0,1168.4 1480.3,1169.9 1480.6,1171.5 1481.0,1173.0 1481.3,1174.6 1481.7,1176.2 1482.0,1177.7 1482.3,1179.3 1482.7,1180.8 1483.0,1182.4 1483.4,1183.9 1483.7,1185.5 1484.1,1187.1 1484.4,1188.6 1484.8,1190.2 1485.1,1191.7 1485.5,1193.3 1485.8,1194.9 1486.2,1196.4 1486.5,1198.0 1486.9,1199.5 1487.2,1201.1 1487.6,1202.6 1487.9,1204.2 1488.3,1205.8 1488.6,1207.3 1489.0,1208.9 1489.4,1210.4 1489.7,1212.0 1490.1,1213.5 1490.4,1215.1 1490.8,1216.6 1491.2,1218.2 1491.5,1219.8 1491.9,1221.3 1492.2,1222.9 1492.6,1224.4 1493.0,1226.0 1493.3,1227.5 1493.7,1229.1 1494.1,1230.6 1494.4,1232.2 1494.8,1233.7 1495.2,1235.3 1495.5,1236.8 1495.9,1238.4 1496.3,1239.9 1496.7,1241.5 1497.0,1243.0 1497.4,1244.6 1497.8,1246.2 1498.1,1247.7 1498.5,1249.3 1498.9,1250.8 1499.3,1252.4 1499.7,1253.9 1500.0,1255.5 1500.4,1257.0 1500.8,1258.6 1501.2,1260.1 1501.5,1261.6 1501.9,1263.2 1502.3,1264.7 1502.7,1266.3 1503.1,1267.8 1503.5,1269.4 1503.8,1270.9 1504.2,1272.5 1504.6,1274.0 1505.0,1275.6 1505.4,1277.1 1505.8,1278.7 1506.2,1280.2 1506.6,1281.8 1506.9,1283.3 1507.3,1284.8 1507.7,1286.4 1508.1,1287.9 1508.5,1289.5 1508.9,1291.0 1509.3,1292.6 1509.7,1294.1 1510.1,1295.6 1510.5,1297.2 1510.9,1298.7 1511.3,1300.3 1511.7,1301.8 1512.1,1303.3 1512.5,1304.9 1512.9,1306.4 1513.3,1308.0 1513.7,1309.5 1514.1,1311.0 1514.5,1312.6 1514.9,1314.1 1515.3,1315.6 1515.7,1317.2 1516.1,1318.7 1516.5,1320.3 1516.9,1321.8 1517.3,1323.3 1517.7,1324.9 1518.1,1326.4 1518.5,1327.9 1518.9,1329.5 1519.4,1331.0 1519.8,1332.5 1520.2,1334.1 1520.6,1335.6 1521.0,1337.1 1521.4,1338.7 1521.8,1340.2 1522.2,1341.7 1522.7,1343.2 1523.1,1344.8 1523.5,1346.3 1523.9,1347.8 1524.3,1349.4 1524.7,1350.9 1525.2,1352.4 1525.6,1353.9 1526.0,1355.5 1526.4,1357.0 1526.8,1358.5 1527.3,1360.0 1527.7,1361.6 1528.1,1363.1 1528.5,1364.6 1529.0,1366.1 1529.4,1367.7 1529.8,1369.2 1530.2,1370.7 1530.7,1372.2 1531.1,1373.7 1531.5,1375.3 1532.0,1376.8 1532.4,1378.3 1532.8,1379.8 1533.3,1381.3 1533.7,1382.9 1534.1,1384.4 1534.6,1385.9 1535.0,1387.4 1535.5,1388.9 1535.9,1390.4 1536.3,1392.0 1536.8,1393.5 1537.2,1395.0 1537.7,1396.5 1538.1,1398.0 1538.6,1399.5 1539.0,1401.0 1539.5,1402.5 1540.0,1404.1 1540.4,1405.6 1540.9,1407.1 1541.3,1408.6 1541.8,1410.1 1542.3,1411.6 1542.7,1413.1 1543.2,1414.6 1543.7,1416.1 1544.2,1417.6 1544.6,1419.1 1545.1,1420.6 1545.6,1422.1 1546.1,1423.6 1546.6,1425.1 1547.0,1426.6 1547.5,1428.1 1548.0,1429.6 1548.5,1431.1 1549.0,1432.6 1549.5,1434.1 1550.0,1435.6 1550.5,1437.1 1551.0,1438.6 1551.5,1440.1 1552.0,1441.6 1552.6,1443.1 1553.1,1444.6 1553.6,1446.1 1554.1,1447.6 1554.6,1449.1 1555.2,1450.6 1555.7,1452.1 1556.2,1453.6 1556.8,1455.1 1557.3,1456.5 1557.8,1458.0 1558.4,1459.5 1558.9,1461.0 1559.5,1462.5 1560.0,1464.0 1560.6,1465.5 1561.2,1467.0 1561.7,1468.4 1562.3,1469.9 1562.8,1471.4 1563.4,1472.9 1564.0,1474.4 1564.6,1475.8 1565.2,1477.3 1565.7,1478.8 1566.3,1480.3 1566.9,1481.8 1567.5,1483.2 1568.1,1484.7 1568.7,1486.2 1569.3,1487.7 1569.9,1489.1 1570.6,1490.6 1571.2,1492.1 1571.8,1493.6 1572.4,1495.0 1573.0,1496.5 1573.7,1498.0 1574.3,1499.4 1575.0,1500.9 1575.6,1502.4 1576.3,1503.8 1576.9,1505.3 1577.6,1506.8 1578.2,1508.2 1578.9,1509.7 1579.6,1511.2 1580.2,1512.6 1580.9,1514.1 1581.6,1515.6 1582.3,1517.0 1583.0,1518.5 1583.7,1519.9 1584.4,1521.4 1585.1,1522.8 1585.8,1524.3 1586.5,1525.7 1587.2,1527.2 1587.9,1528.6 1588.7,1530.1 1589.4,1531.5 1590.1,1532.9 1590.9,1534.4 1591.6,1535.8 1592.4,1537.2 1593.2,1538.6 1593.9,1540.1 1594.7,1541.5 1595.5,1542.9 1596.3,1544.3 1597.0,1545.7 1597.8,1547.1 1598.6,1548.5 1599.5,1549.9 1600.3,1551.3 1601.1,1552.6 1601.9,1554.0 1602.8,1555.4 1603.6,1556.8 1604.4,1558.1 1605.3,1559.5 1606.2,1560.8 1607.0,1562.2 1607.9,1563.5 1608.8,1564.8 1609.7,1566.2 1610.6,1567.5 1611.5,1568.8 1612.4,1570.1 1613.3,1571.4 1614.2,1572.7 1615.2,1574.0 1616.1,1575.3 1617.0,1576.6 1618.0,1577.8 1619.0,1579.1 1619.9,1580.3 1620.9,1581.6 1621.9,1582.8 1622.9,1584.0 1623.9,1585.3 1624.9,1586.5 1625.9,1587.7 1626.9,1588.9 1628.0,1590.1 1629.0,1591.2 1630.1,1592.4 1631.1,1593.6 1632.2,1594.7 1633.3,1595.9 1634.4,1597.0 1635.5,1598.1 1636.6,1599.2 1637.7,1600.3 1638.8,1601.4 1639.9,1602.5 1641.1,1603.6 1642.2,1604.7 1643.4,1605.7 1644.6,1606.8 1645.7,1607.8 1646.9,1608.8 1648.1,1609.8 1649.3,1610.8 1650.6,1611.8 1651.8,1612.8 1653.0,1613.8 1654.3,1614.7 1655.5,1615.7 1656.8,1616.6 1658.1,1617.5 1659.4,1618.4 1660.7,1619.3 1662.0,1620.2 1663.3,1621.1 1664.6,1621.9 1666.0,1622.8 1667.3,1623.6 1668.7,1624.4 1670.0,1625.2 1671.4,1626.0 1672.8,1626.8 1674.1,1627.6 1675.5,1628.3 1676.9,1629.0 1678.4,1629.8 1679.8,1630.5 1681.2,1631.2 1682.6,1631.9 1684.1,1632.5 1685.5,1633.2 1687.0,1633.8 1688.4,1634.4 1689.9,1635.0 1691.4,1635.6 1692.8,1636.2 1694.3,1636.8 1695.8,1637.3 1697.3,1637.8 1698.8,1638.4 1700.3,1638.9 1701.8,1639.3 1703.3,1639.8 1704.9,1640.3 1706.4,1640.7 1707.9,1641.1 1709.5,1641.5 1711.0,1641.9 1712.5,1642.3 1714.1,1642.6 1715.6,1643.0 1717.2,1643.3 1718.8,1643.6 1720.3,1643.9 1721.9,1644.2 1723.5,1644.5 1725.0,1644.7 1726.6,1645.0 1728.2,1645.2 1729.8,1645.5 1731.3,1645.7 1732.9,1645.9 1734.5,1646.1 1736.1,1646.3 1737.7,1646.5 1739.3,1646.7 1740.9,1646.8 1742.5,1647.0 1744.1,1647.2 1745.7,1647.3 1747.3,1647.5 1748.9,1647.6 1750.5,1647.8 1752.1,1647.9 1753.7,1648.0 1755.3,1648.2 1756.9,1648.3 1758.5,1648.4 1760.1,1648.6 1761.7,1648.7 1763.3,1648.8 1764.9,1648.9 1766.5,1649.0 1768.1,1649.2 1769.7,1649.3 1771.3,1649.4 1772.9,1649.5 1774.5,1649.6 1776.1,1649.8 1777.7,1649.9 1779.3,1650.0 1780.9,1650.1 1782.5,1650.2 1784.1,1650.3 1785.7,1650.4 1787.3,1650.5 1788.9,1650.6 1790.5,1650.7 1792.1,1650.9 1793.7,1651.0 1795.3,1651.1 1796.9,1651.2 1798.5,1651.3 1800.1,1651.4 1801.7,1651.4 1803.3,1651.5 1804.9,1651.6 1806.4,1651.7 1808.0,1651.8 1809.6,1651.9 1811.2,1652.0 1812.8,1652.1 1814.4,1652.2 1816.0,1652.3 1817.6,1652.4 1819.2,1652.4 1820.8,1652.5 1822.4,1652.6 1824.0,1652.7 1825.6,1652.8 1827.2,1652.8 1828.8,1652.9 1830.4,1653.0 1832.0,1653.1 1833.6,1653.1 1835.2,1653.2 1836.7,1653.3 1838.3,1653.4 1839.9,1653.4 1841.5,1653.5 1843.1,1653.6 1844.7,1653.6 1846.3,1653.7 1847.9,1653.8 1849.5,1653.8 1851.1,1653.9 1852.7,1654.0 1854.3,1654.0 1855.9,1654.1 1857.5,1654.2 1859.0,1654.2 1860.6,1654.3 1862.2,1654.3 1863.8,1654.4 1865.4,1654.4 1867.0,1654.5 1868.6,1654.6 1870.2,1654.6 1871.8,1654.7 1873.4,1654.7 1875.0,1654.8 1876.5,1654.8 1878.1,1654.9 1879.7,1654.9 1881.3,1655.0 1882.9,1655.0 1884.5,1655.1 1886.1,1655.1 1887.7,1655.1 1889.3,1655.2 1890.9,1655.2 1892.4,1655.3 1894.0,1655.3 1895.6,1655.4 1897.2,1655.4 1898.8,1655.4 1900.4,1655.5 1902.0,1655.5 1903.6,1655.5 1905.2,1655.6 1906.7,1655.6 1908.3,1655.6 1909.9,1655.7 1911.5,1655.7 1913.1,1655.7 1914.7,1655.8 1916.3,1655.8 1917.9,1655.8 1919.4,1655.9 1921.0,1655.9 1922.6,1655.9 1924.2,1656.0 1925.8,1656.0 1927.4,1656.0 1929.0,1656.0 1930.6,1656.1 1932.1,1656.1 1933.7,1656.1 1935.3,1656.1 1936.9,1656.1 1938.5,1656.2 1940.1,1656.2 1941.7,1656.2 1943.3,1656.2 1944.8,1656.3 1946.4,1656.3 1948.0,1656.3 1949.6,1656.3 1951.2,1656.3 1952.8,1656.3 1954.4,1656.4 1955.9,1656.4 1957.5,1656.4 1959.1,1656.4 1960.7,1656.4 1962.3,1656.4 1963.9,1656.4 1965.5,1656.5 1967.1,1656.5 1968.6,1656.5 1970.2,1656.5 1971.8,1656.5 1973.4,1656.5 1975.0,1656.5 1976.6,1656.5 1978.2,1656.5 1979.7,1656.5 1981.3,1656.5 1982.9,1656.6 1984.5,1656.6 1986.1,1656.6 1987.7,1656.6 1989.3,1656.6 1990.8,1656.6 1992.4,1656.6 1994.0,1656.6 1995.6,1656.6 1997.2,1656.6 1998.8,1656.6 2000.4,1656.6 2001.9,1656.6 2003.5,1656.6 2005.1,1656.6 2006.7,1656.6 2008.3,1656.6 2009.9,1656.6 2011.5,1656.6 2013.0,1656.6 2014.6,1656.6 2016.2,1656.6 2017.8,1656.6 2019.4,1656.6 2021.0,1656.6 2022.6,1656.6 2024.1,1656.6 2025.7,1656.6 2027.3,1656.6 2028.9,1656.6 2030.5,1656.6 2032.1,1656.6 2033.7,1656.6 2035.2,1656.6 2036.8,1656.6 2038.4,1656.6 2040.0,1656.6 2041.6,1656.6 2043.2,1656.6 2044.8,1656.5 2046.3,1656.5 2047.9,1656.5 2049.5,1656.5 2051.1,1656.5 2052.7,1656.5 2054.3,1656.5 2055.9,1656.5 2057.4,1656.5 2059.0,1656.5 2060.6,1656.5 2062.2,1656.5 2063.8,1656.5 2065.4,1656.5 2067.0,1656.5 2068.6,1656.4 2070.1,1656.4 2071.7,1656.4 2073.3,1656.4 2074.9,1656.4 2076.5,1656.4 2078.1,1656.4 2079.7,1656.4 2081.2,1656.4 2082.8,1656.4 2084.4,1656.4 2086.0,1656.4 2087.6,1656.3 2089.2,1656.3 2090.8,1656.3 2092.4,1656.3 2093.9,1656.3 2095.5,1656.3 2097.1,1656.3 2098.7,1656.3 2100.3,1656.3 2101.9,1656.3 2103.5,1656.3 2105.1,1656.2 2106.6,1656.2 2108.2,1656.2 2109.8,1656.2 2111.4,1656.2 2113.0,1656.2 2114.6,1656.2 2116.2,1656.2 2117.8,1656.2 2119.4,1656.2 2120.9,1656.2 2122.5,1656.2 2124.1,1656.1 2125.7,1656.1 2127.3,1656.1 2128.9,1656.1 2130.5,1656.1 2132.1,1656.1 2133.7,1656.1 2135.2,1656.1 2136.8,1656.1 2138.4,1656.1 2140.0,1656.1 2141.6,1656.1 2143.2,1656.1 2144.8,1656.1 2146.4,1656.0 2148.0,1656.0 2149.6,1656.0 2151.1,1656.0 2152.7,1656.0 2154.3,1656.0 2155.9,1656.0 2157.5,1656.0 2159.1,1656.0 2160.7,1656.0 2162.3,1656.0 2163.9,1656.0 2165.5,1656.0 2167.1,1656.0 2168.6,1656.0 2170.2,1656.0 2171.8,1656.0 2173.4,1656.0 2175.0,1656.0 2176.6,1656.0 2178.2,1656.0 2179.8,1656.0 2181.4,1656.0 2183.0,1656.0 2184.6,1656.0 2186.2,1656.0 2187.8,1656.0 2189.3,1656.0 2190.9,1656.0 2192.5,1656.0 2194.1,1656.0 2195.7,1656.0 2197.3,1656.0 2198.9,1656.0 2200.5,1656.0 2202.1,1656.0 2203.7,1656.0 2205.3,1656.0 2206.9,1656.0 2208.5,1656.0 2210.1,1656.0 2211.7,1656.0 2213.3,1656.1 2214.9,1656.1 2216.5,1656.1 2218.1,1656.1 2219.7,1656.1 2221.2,1656.1 2222.8,1656.1 2224.4,1656.1 2226.0,1656.1 2227.6,1656.1 2229.2,1656.2 2230.8,1656.2 2232.4,1656.2 2234.0,1656.2 2235.6,1656.2 2237.2,1656.2 2238.8,1656.2 2240.4,1656.3 2242.0,1656.3 2243.6,1656.3 2245.2,1656.3 2246.8,1656.3 2248.4,1656.3 2250.0,1656.4 2251.6,1656.4 2253.2,1656.4 2254.8,1656.4 2256.4,1656.4 2258.0,1656.5 2259.6,1656.5 2261.2,1656.5 2262.8,1656.5 2264.4,1656.6 2266.0,1656.6 2267.6,1656.6 2269.2,1656.6 2270.8,1656.7 2272.4,1656.7 2274.0,1656.7 2275.6,1656.8 2277.2,1656.8 2278.8,1656.8 2280.4,1656.8 2282.0,1656.9 2283.7,1656.9 2285.3,1656.9 2286.9,1657.0 2288.5,1657.0 2290.1,1657.0" fill="none" stroke="#808000" stroke-width="1.8" stroke-linejoin="round"/>
<polyline points="439.7,1658.0 443.9,1657.7 448.0,1657.4 452.2,1657.1 456.3,1656.8 460.5,1656.5 464.7,1656.3 469.0,1656.0 473.3,1655.7 477.7,1655.5 482.2,1655.3 486.7,1655.1 491.3,1654.9 495.9,1654.7 500.5,1654.5 505.0,1654.1 509.5,1653.6 513.9,1653.0 518.2,1652.2 522.5,1651.3 526.8,1650.4 531.1,1649.4 535.5,1648.4 539.8,1647.5 544.3,1646.6 548.9,1645.8 553.5,1645.1 558.2,1644.3 562.9,1643.6 567.6,1642.9 572.3,1642.1 577.0,1641.3 581.6,1640.4 586.1,1639.4 590.6,1638.4 595.0,1637.4 599.4,1636.3 603.8,1635.2 608.2,1634.0 612.7,1632.7 617.3,1631.3 622.0,1629.9 626.7,1628.3 631.6,1626.8 636.4,1625.1 641.3,1623.4 646.1,1621.6 650.9,1619.7 655.6,1617.8 660.2,1615.8 664.7,1613.7 669.2,1611.5 673.7,1609.3 678.1,1607.0 682.6,1604.6 687.1,1602.3 691.6,1599.9 696.2,1597.5 700.8,1595.2 705.5,1592.8 710.2,1590.4 714.8,1587.9 719.5,1585.3 724.1,1582.6 728.6,1579.8 733.1,1576.8 737.4,1573.7 741.8,1570.4 746.1,1567.1 750.4,1563.7 754.7,1560.2 759.1,1556.6 763.5,1553.0 768.0,1549.3 772.5,1545.7 777.0,1541.9 781.6,1538.1 786.2,1534.2 790.7,1530.1 795.2,1525.9 799.7,1521.5 804.1,1516.9 808.5,1512.1 812.9,1507.1 817.2,1502.0 821.5,1496.9 825.8,1491.6 830.1,1486.4 834.4,1481.2 838.7,1476.0 842.9,1470.8 847.1,1465.6 851.2,1460.4 855.4,1455.1 859.6,1449.7 863.8,1444.3 868.1,1438.7 872.4,1433.1 876.8,1427.3 881.1,1421.5 885.5,1415.7 889.9,1409.7 894.3,1403.7 898.7,1397.7 903.0,1391.5 907.3,1385.3 911.5,1379.0 915.8,1372.7 920.0,1366.3 924.2,1359.8 928.4,1353.2 932.6,1346.5 936.8,1339.7 941.0,1332.8 945.2,1325.8 949.4,1318.7 953.6,1311.5 957.8,1304.2 962.0,1296.8 966.2,1289.2 970.4,1281.6 974.6,1273.8 978.8,1266.0 983.0,1257.9 987.2,1249.8 991.5,1241.6 995.7,1233.4 999.9,1225.1 1004.1,1216.7 1008.3,1208.3 1012.5,1199.7 1016.7,1191.0 1020.9,1182.3 1025.1,1173.6 1029.3,1164.9 1033.6,1156.2 1037.8,1147.6 1042.0,1139.1 1046.3,1130.7 1050.6,1122.3 1054.9,1113.9 1059.1,1105.6 1063.4,1097.2 1067.7,1088.7 1071.9,1080.2 1076.1,1071.6 1080.3,1063.1 1084.5,1054.5 1088.7,1045.8 1092.9,1037.2 1097.1,1028.4 1101.3,1019.6 1105.5,1010.7 1109.7,1001.7 1113.8,992.4 1118.0,983.1 1122.2,973.8 1126.3,964.4 1130.5,955.1 1134.7,946.0 1138.9,937.0 1143.1,928.1 1147.3,919.2 1151.5,910.4 1155.7,901.6 1160.0,893.1 1164.2,884.7 1168.6,876.6 1172.9,868.9 1177.3,861.4 1181.8,854.0 1186.4,846.7 1190.9,839.8 1195.5,833.1 1200.0,827.0 1204.5,821.3 1208.9,816.3 1213.2,811.7 1217.5,807.5 1221.6,803.6 1225.8,800.3 1230.0,797.5 1234.1,795.5 1238.4,794.2 1242.7,793.7 1247.1,794.1 1251.6,795.4 1256.2,797.4 1260.8,800.0 1265.3,803.3 1269.9,807.2 1274.4,811.6 1278.8,816.4 1283.1,821.9 1287.4,828.1 1291.6,835.0 1295.7,842.4 1299.9,850.1 1304.1,858.1 1308.3,866.1 1312.6,874.1 1317.0,882.2 1321.4,890.8 1325.9,899.6 1330.5,908.5 1335.0,917.4 1339.5,926.1 1343.9,934.5 1348.3,942.5 1352.6,950.0 1356.8,957.1 1361.0,964.0 1365.1,970.7 1369.3,977.3 1373.5,983.9 1377.7,990.5 1382.0,997.3 1386.4,1003.9 1390.9,1010.1 1395.4,1016.1 1400.0,1022.2 1404.6,1028.7 1409.1,1035.9 1413.6,1043.9 1418.0,1053.0 1422.3,1063.2 1426.5,1074.0 1430.7,1085.6 1434.8,1097.8 1439.0,1110.8 1443.2,1124.5 1447.4,1139.0 1451.7,1154.2 1456.1,1170.5 1460.6,1188.0 1465.2,1206.4 1469.7,1225.5 1474.3,1244.9 1478.9,1264.4 1483.4,1283.6 1487.8,1302.2 1492.1,1320.8 1496.4,1339.8 1500.6,1358.9 1504.8,1377.9 1509.0,1396.4 1513.1,1414.3 1517.3,1431.1 1521.6,1446.6 1525.9,1461.0 1530.2,1474.5 1534.5,1487.1 1538.9,1499.0 1543.2,1510.1 1547.6,1520.4 1551.9,1530.0 1556.3,1538.8 1560.7,1546.7 1565.1,1553.5 1569.5,1559.4 1573.9,1564.7 1578.2,1569.4 1582.6,1573.7 1587.0,1577.9 1591.3,1582.1 1595.6,1586.1 1599.8,1589.7 1604.0,1592.9 1608.1,1595.9 1612.3,1598.6 1616.5,1601.3 1620.8,1603.9 1625.1,1606.5 1629.5,1609.1 1634.0,1611.6 1638.5,1614.0 1643.0,1616.3 1647.6,1618.5 1652.1,1620.6 1656.7,1622.7 1661.2,1624.7 1665.7,1626.6 1670.2,1628.5 1674.7,1630.2 1679.2,1631.9 1683.7,1633.6 1688.2,1635.1 1692.6,1636.5 1697.0,1637.9 1701.3,1639.2 1705.6,1640.3 1709.8,1641.4 1714.0,1642.4 1718.2,1643.3 1722.4,1644.2 1726.7,1645.0 1731.0,1645.8 1735.4,1646.6 1739.9,1647.3 1744.4,1647.9 1748.9,1648.6 1753.4,1649.1 1758.0,1649.7 1762.5,1650.2 1767.0,1650.6 1771.5,1651.0 1776.0,1651.4 1780.6,1651.7 1785.1,1651.9 1789.6,1652.2 1794.1,1652.4 1798.6,1652.6 1803.0,1652.7 1807.4,1652.8 1811.7,1652.8 1816.1,1652.8 1820.4,1652.7 1824.6,1652.7 1828.9,1652.6 1833.3,1652.6 1837.6,1652.7 1842.0,1652.9 1846.3,1653.1 1850.7,1653.3 1855.1,1653.6 1859.5,1653.8 1864.0,1654.1 1868.4,1654.4 1872.8,1654.6 1877.2,1654.8 1881.7,1655.0 1886.1,1655.2 1890.5,1655.4 1895.0,1655.6 1899.4,1655.7 1903.9,1655.9 1908.4,1656.0 1912.9,1656.1 1917.4,1656.2 1922.0,1656.3 1926.6,1656.3 1931.1,1656.4 1935.6,1656.4 1940.1,1656.4 1944.6,1656.5 1949.0,1656.6 1953.4,1656.6 1957.7,1656.7 1962.0,1656.8 1966.3,1656.8 1970.7,1656.9 1975.0,1656.9 1979.4,1657.0 1983.8,1657.1 1988.3,1657.1 1992.8,1657.2 1997.3,1657.3 2001.8,1657.3 2006.3,1657.4 2010.8,1657.4 2015.3,1657.5 2019.8,1657.5 2024.2,1657.6 2028.7,1657.6 2033.2,1657.7 2037.6,1657.7 2042.1,1657.8 2046.7,1657.8 2051.2,1657.8 2055.8,1657.8 2060.4,1657.8 2065.1,1657.8 2069.7,1657.8 2074.4,1657.8 2079.1,1657.8 2083.7,1657.8 2088.3,1657.8 2092.9,1657.8 2097.4,1657.8 2101.9,1657.8 2106.4,1657.8 2110.8,1657.8 2115.3,1657.8 2119.8,1657.8 2124.3,1657.8 2128.8,1657.8 2133.3,1657.8 2137.8,1657.8 2142.3,1657.8 2146.8,1657.8 2151.3,1657.8 2155.8,1657.8 2160.3,1657.8 2164.8,1657.8 2169.3,1657.8 2173.8,1657.8 2178.4,1657.8 2182.9,1657.8 2187.4,1657.8 2191.9,1657.8 2196.4,1657.8 2200.9,1657.8 2205.3,1657.8 2209.8,1657.8 2214.2,1657.8 2218.7,1657.8 2223.2,1657.8 2227.7,1657.8 2232.3,1657.8 2237.0,1657.8 2241.7,1657.8 2246.5,1657.8 2251.3,1657.8 2256.1,1657.8 2261.0,1657.8 2265.8,1657.8 2270.6,1657.8" fill="none" stroke="#B438FF" stroke-width="1.5" stroke-linejoin="round"/>
<rect x="431.95" y="1650.25" width="15.5" height="15.5" fill="#BC4CFF"/>
<rect x="465.55" y="1647.95" width="15.5" height="15.5" fill="#BC4CFF"/>
<rect x="501.75" y="1645.85" width="15.5" height="15.5" fill="#BC4CFF"/>
<rect x="536.55" y="1638.85" width="15.5" height="15.5" fill="#BC4CFF"/>
<rect x="573.85" y="1632.65" width="15.5" height="15.5" fill="#BC4CFF"/>
<rect x="609.55" y="1623.55" width="15.5" height="15.5" fill="#BC4CFF"/>
<rect x="647.85" y="1610.05" width="15.5" height="15.5" fill="#BC4CFF"/>
<rect x="683.85" y="1592.15" width="15.5" height="15.5" fill="#BC4CFF"/>
<rect x="720.85" y="1572.05" width="15.5" height="15.5" fill="#BC4CFF"/>
<rect x="755.75" y="1545.25" width="15.5" height="15.5" fill="#BC4CFF"/>
<rect x="791.95" y="1513.75" width="15.5" height="15.5" fill="#BC4CFF"/>
<rect x="826.65" y="1473.45" width="15.5" height="15.5" fill="#BC4CFF"/>
<rect x="860.35" y="1430.95" width="15.5" height="15.5" fill="#BC4CFF"/>
<rect x="895.25" y="1383.75" width="15.5" height="15.5" fill="#BC4CFF"/>
<rect x="929.05" y="1331.95" width="15.5" height="15.5" fill="#BC4CFF"/>
<rect x="962.65" y="1273.85" width="15.5" height="15.5" fill="#BC4CFF"/>
<rect x="996.35" y="1208.95" width="15.5" height="15.5" fill="#BC4CFF"/>
<rect x="1030.05" y="1139.85" width="15.5" height="15.5" fill="#BC4CFF"/>
<rect x="1064.15" y="1072.45" width="15.5" height="15.5" fill="#BC4CFF"/>
<rect x="1097.75" y="1002.95" width="15.5" height="15.5" fill="#BC4CFF"/>
<rect x="1131.15" y="929.25" width="15.5" height="15.5" fill="#BC4CFF"/>
<rect x="1165.15" y="861.15" width="15.5" height="15.5" fill="#BC4CFF"/>
<rect x="1201.15" y="808.55" width="15.5" height="15.5" fill="#BC4CFF"/>
<rect x="1234.95" y="785.95" width="15.5" height="15.5" fill="#BC4CFF"/>
<rect x="1271.05" y="808.65" width="15.5" height="15.5" fill="#BC4CFF"/>
<rect x="1304.85" y="866.35" width="15.5" height="15.5" fill="#BC4CFF"/>
<rect x="1340.55" y="934.75" width="15.5" height="15.5" fill="#BC4CFF"/>
<rect x="1374.25" y="989.55" width="15.5" height="15.5" fill="#BC4CFF"/>
<rect x="1410.25" y="1045.25" width="15.5" height="15.5" fill="#BC4CFF"/>
<rect x="1443.95" y="1146.45" width="15.5" height="15.5" fill="#BC4CFF"/>
<rect x="1480.05" y="1294.45" width="15.5" height="15.5" fill="#BC4CFF"/>
<rect x="1513.85" y="1438.85" width="15.5" height="15.5" fill="#BC4CFF"/>
<rect x="1548.55" y="1531.05" width="15.5" height="15.5" fill="#BC4CFF"/>
<rect x="1583.55" y="1574.35" width="15.5" height="15.5" fill="#BC4CFF"/>
<rect x="1617.35" y="1598.75" width="15.5" height="15.5" fill="#BC4CFF"/>
<rect x="1653.45" y="1616.95" width="15.5" height="15.5" fill="#BC4CFF"/>
<rect x="1689.25" y="1630.15" width="15.5" height="15.5" fill="#BC4CFF"/>
<rect x="1723.25" y="1638.05" width="15.5" height="15.5" fill="#BC4CFF"/>
<rect x="1759.25" y="1642.85" width="15.5" height="15.5" fill="#BC4CFF"/>
<rect x="1795.25" y="1644.95" width="15.5" height="15.5" fill="#BC4CFF"/>
<rect x="1829.85" y="1644.95" width="15.5" height="15.5" fill="#BC4CFF"/>
<rect x="1865.05" y="1646.85" width="15.5" height="15.5" fill="#BC4CFF"/>
<rect x="1900.65" y="1648.25" width="15.5" height="15.5" fill="#BC4CFF"/>
<rect x="1936.85" y="1648.75" width="15.5" height="15.5" fill="#BC4CFF"/>
<rect x="1971.65" y="1649.25" width="15.5" height="15.5" fill="#BC4CFF"/>
<rect x="2007.55" y="1649.75" width="15.5" height="15.5" fill="#BC4CFF"/>
<rect x="2043.45" y="1650.05" width="15.5" height="15.5" fill="#BC4CFF"/>
<rect x="2080.55" y="1650.05" width="15.5" height="15.5" fill="#BC4CFF"/>
<rect x="2116.55" y="1650.05" width="15.5" height="15.5" fill="#BC4CFF"/>
<rect x="2152.55" y="1650.05" width="15.5" height="15.5" fill="#BC4CFF"/>
<rect x="2188.65" y="1650.05" width="15.5" height="15.5" fill="#BC4CFF"/>
<rect x="2224.55" y="1650.05" width="15.5" height="15.5" fill="#BC4CFF"/>
<rect x="2262.85" y="1650.05" width="15.5" height="15.5" fill="#BC4CFF"/>
<polyline points="445.0,1659.0 449.0,1658.7 453.0,1658.4 456.9,1658.0 460.9,1657.7 464.9,1657.4 468.9,1657.1 472.8,1656.8 476.8,1656.5 480.8,1656.2 484.7,1656.0 488.7,1655.7 492.7,1655.5 496.6,1655.2 500.6,1655.0 504.6,1654.7 508.5,1654.5 512.4,1654.2 516.2,1654.0 520.1,1653.7 523.9,1653.4 527.7,1653.2 531.6,1652.9 535.7,1652.7 539.8,1652.5 544.1,1652.4 548.5,1652.3 553.0,1652.2 557.6,1652.1 562.2,1652.1 566.8,1652.0 571.4,1651.9 575.9,1651.7 580.4,1651.5 584.9,1651.2 589.4,1650.9 593.9,1650.6 598.4,1650.2 602.8,1649.8 607.2,1649.5 611.6,1649.1 615.9,1648.8 620.2,1648.5 624.4,1648.2 628.6,1647.8 632.8,1647.5 637.0,1647.0 641.2,1646.5 645.5,1645.8 649.8,1645.0 654.2,1643.9 658.5,1642.8 662.9,1641.6 667.3,1640.4 671.8,1639.2 676.2,1638.1 680.7,1637.0 685.2,1636.1 689.8,1635.2 694.4,1634.4 699.1,1633.6 703.7,1632.8 708.3,1632.0 712.8,1631.1 717.3,1630.0 721.7,1628.8 725.9,1627.6 730.1,1626.3 734.3,1625.0 738.5,1623.6 742.7,1622.1 746.9,1620.5 751.2,1618.9 755.6,1617.2 760.0,1615.4 764.5,1613.5 769.0,1611.5 773.5,1609.5 778.0,1607.4 782.4,1605.3 786.8,1603.2 791.1,1601.1 795.4,1598.9 799.7,1596.6 803.9,1594.3 808.2,1592.0 812.4,1589.7 816.6,1587.4 820.8,1585.2 825.0,1583.0 829.2,1580.8 833.4,1578.6 837.6,1576.4 841.7,1574.2 845.9,1572.0 850.1,1569.8 854.3,1567.6 858.5,1565.3 862.7,1563.1 866.9,1560.7 871.1,1558.4 875.3,1556.1 879.6,1553.9 883.8,1551.7 888.0,1549.5 892.2,1547.4 896.4,1545.3 900.7,1543.2 904.9,1541.2 909.1,1539.2 913.3,1537.3 917.6,1535.4 921.8,1533.7 926.0,1532.0 930.2,1530.3 934.5,1528.7 938.7,1527.2 942.9,1525.8 947.1,1524.5 951.4,1523.4 955.6,1522.5 959.8,1521.8 964.1,1521.2 968.3,1520.8 972.5,1520.5 976.7,1520.4 981.0,1520.6 985.2,1520.9 989.4,1521.5 993.6,1522.3 997.8,1523.4 1002.0,1524.7 1006.2,1526.1 1010.5,1527.8 1014.7,1529.7 1018.9,1531.8 1023.1,1534.0 1027.3,1536.5 1031.5,1539.3 1035.8,1542.3 1040.0,1545.6 1044.2,1548.9 1048.4,1552.2 1052.7,1555.5 1056.9,1558.6 1061.1,1561.7 1065.3,1564.9 1069.6,1568.0 1073.8,1571.2 1078.0,1574.3 1082.2,1577.3 1086.5,1580.3 1090.7,1583.0 1094.9,1585.6 1099.2,1588.1 1103.4,1590.6 1107.7,1592.9 1111.9,1595.1 1116.1,1597.2 1120.4,1599.2 1124.6,1601.1 1128.8,1602.9 1133.0,1604.5 1137.1,1606.0 1141.3,1607.4 1145.4,1608.7 1149.6,1609.9 1153.9,1611.1 1158.2,1612.2 1162.6,1613.3 1167.1,1614.3 1171.6,1615.2 1176.2,1616.1 1180.8,1616.9 1185.3,1617.6 1189.8,1618.3 1194.2,1618.9 1198.5,1619.4 1202.7,1619.8 1206.9,1620.1 1211.0,1620.4 1215.1,1620.6 1219.3,1620.8 1223.5,1621.0 1227.8,1621.1 1232.2,1621.2 1236.7,1621.2 1241.3,1621.2 1245.9,1621.1 1250.5,1621.1 1255.1,1621.1 1259.6,1621.1 1264.0,1621.2 1268.3,1621.4 1272.5,1621.6 1276.7,1621.9 1280.8,1622.3 1285.0,1622.6 1289.2,1623.0 1293.4,1623.3 1297.7,1623.6 1302.1,1623.9 1306.6,1624.1 1311.2,1624.4 1315.8,1624.7 1320.4,1624.9 1325.0,1625.2 1329.5,1625.5 1333.9,1625.8 1338.2,1626.2 1342.5,1626.6 1346.7,1627.0 1350.8,1627.4 1355.0,1627.8 1359.2,1628.2 1363.4,1628.6 1367.7,1628.9 1372.1,1629.1 1376.5,1629.4 1381.0,1629.5 1385.6,1629.7 1390.1,1629.8 1394.6,1629.9 1399.0,1630.0 1403.4,1630.0 1407.7,1630.0 1411.9,1629.9 1416.1,1629.8 1420.3,1629.6 1424.5,1629.5 1428.6,1629.4 1432.8,1629.3 1437.0,1629.2 1441.2,1629.2 1445.4,1629.2 1449.6,1629.2 1453.8,1629.2 1458.0,1629.3 1462.2,1629.4 1466.5,1629.5 1470.8,1629.7 1475.2,1629.9 1479.7,1630.2 1484.2,1630.5 1488.7,1630.9 1493.3,1631.2 1497.8,1631.6 1502.3,1631.9 1506.7,1632.2 1511.0,1632.4 1515.3,1632.6 1519.6,1632.8 1523.8,1632.9 1528.0,1633.1 1532.2,1633.3 1536.4,1633.7 1540.6,1634.1 1544.8,1634.7 1549.0,1635.4 1553.2,1636.2 1557.4,1637.0 1561.7,1637.9 1565.9,1638.8 1570.2,1639.6 1574.5,1640.4 1578.9,1641.1 1583.3,1641.9 1587.8,1642.6 1592.3,1643.3 1596.8,1644.0 1601.3,1644.6 1605.8,1645.2 1610.2,1645.8 1614.5,1646.3 1618.9,1646.8 1623.1,1647.3 1627.4,1647.7 1631.7,1648.1 1635.9,1648.5 1640.1,1648.9 1644.4,1649.3 1648.6,1649.7 1652.9,1650.0 1657.1,1650.4 1661.3,1650.7 1665.5,1651.0 1669.7,1651.4 1674.0,1651.7 1678.3,1652.0 1682.7,1652.3 1687.1,1652.7 1691.6,1653.0 1696.2,1653.3 1700.7,1653.6 1705.2,1653.9 1709.6,1654.2 1714.0,1654.5 1718.3,1654.8 1722.5,1655.0 1726.6,1655.3 1730.8,1655.5 1734.9,1655.8 1739.1,1656.0 1743.3,1656.2 1747.7,1656.3 1752.2,1656.4 1756.7,1656.4 1761.3,1656.4 1766.0,1656.4 1770.7,1656.4 1775.3,1656.4 1780.0,1656.4 1784.6,1656.5 1789.2,1656.7 1793.7,1656.9 1798.3,1657.2 1802.8,1657.5 1807.3,1657.8 1811.8,1658.1 1816.3,1658.3 1820.8,1658.5 1825.3,1658.6 1829.7,1658.7 1834.1,1658.8 1838.6,1658.9 1843.0,1658.9 1847.4,1658.9 1851.8,1659.0 1856.3,1659.0 1860.8,1659.0 1865.3,1659.0 1869.8,1659.0 1874.3,1659.0 1878.8,1659.0 1883.3,1659.0 1887.8,1659.0 1892.4,1659.0 1897.0,1659.0 1901.6,1659.1 1906.2,1659.2 1910.9,1659.2 1915.5,1659.3 1920.2,1659.4 1924.7,1659.4 1929.3,1659.5 1933.8,1659.6 1938.3,1659.6 1942.8,1659.7 1947.2,1659.8 1951.6,1659.8 1956.0,1659.9 1960.4,1659.9 1964.8,1660.0 1969.1,1660.1 1973.5,1660.1 1977.7,1660.2 1982.0,1660.3 1986.3,1660.3 1990.6,1660.4 1994.9,1660.5 1999.3,1660.5 2003.8,1660.5 2008.3,1660.5 2012.8,1660.5 2017.4,1660.5 2022.0,1660.5 2026.6,1660.5 2031.2,1660.5 2035.7,1660.5 2040.2,1660.5 2044.6,1660.5 2049.1,1660.5 2053.5,1660.5 2057.9,1660.5 2062.4,1660.5 2066.8,1660.5 2071.3,1660.5 2075.8,1660.5 2080.4,1660.5 2085.0,1660.5 2089.6,1660.5 2094.2,1660.5 2098.7,1660.5 2103.2,1660.5 2107.6,1660.5 2111.9,1660.5 2116.1,1660.5 2120.2,1660.5 2124.3,1660.5 2128.4,1660.5 2132.5,1660.5 2136.7,1660.5 2141.0,1660.5 2145.4,1660.5 2149.9,1660.5 2154.5,1660.5 2159.1,1660.5 2163.7,1660.5 2168.3,1660.5 2172.9,1660.5 2177.4,1660.5 2181.9,1660.5 2186.3,1660.5 2190.8,1660.5 2195.2,1660.5 2199.6,1660.5 2204.1,1660.5 2208.5,1660.5 2213.0,1660.5 2217.5,1660.5 2222.0,1660.5 2226.6,1660.5 2231.1,1660.5 2235.7,1660.5 2240.3,1660.5 2244.8,1660.5 2249.4,1660.5 2254.0,1660.5 2258.5,1660.5 2263.1,1660.5 2267.6,1660.5 2272.2,1660.5 2276.7,1660.5 2281.2,1660.5 2285.8,1660.5" fill="none" stroke="#FF00FF" stroke-width="1.8" stroke-linejoin="round"/>
<circle cx="445.0" cy="1659.0" r="8" fill="#fff" stroke="#FF00FF" stroke-width="1.6"/>
<circle cx="476.8" cy="1656.5" r="8" fill="#fff" stroke="#FF00FF" stroke-width="1.6"/>
<circle cx="508.5" cy="1654.5" r="8" fill="#fff" stroke="#FF00FF" stroke-width="1.6"/>
<circle cx="539.8" cy="1652.5" r="8" fill="#fff" stroke="#FF00FF" stroke-width="1.6"/>
<circle cx="575.9" cy="1651.7" r="8" fill="#fff" stroke="#FF00FF" stroke-width="1.6"/>
<circle cx="611.6" cy="1649.1" r="8" fill="#fff" stroke="#FF00FF" stroke-width="1.6"/>
<circle cx="645.5" cy="1645.8" r="8" fill="#fff" stroke="#FF00FF" stroke-width="1.6"/>
<circle cx="680.7" cy="1637.0" r="8" fill="#fff" stroke="#FF00FF" stroke-width="1.6"/>
<circle cx="717.3" cy="1630.0" r="8" fill="#fff" stroke="#FF00FF" stroke-width="1.6"/>
<circle cx="751.2" cy="1618.9" r="8" fill="#fff" stroke="#FF00FF" stroke-width="1.6"/>
<circle cx="786.8" cy="1603.2" r="8" fill="#fff" stroke="#FF00FF" stroke-width="1.6"/>
<circle cx="820.8" cy="1585.2" r="8" fill="#fff" stroke="#FF00FF" stroke-width="1.6"/>
<circle cx="854.3" cy="1567.6" r="8" fill="#fff" stroke="#FF00FF" stroke-width="1.6"/>
<circle cx="888.0" cy="1549.5" r="8" fill="#fff" stroke="#FF00FF" stroke-width="1.6"/>
<circle cx="921.8" cy="1533.7" r="8" fill="#fff" stroke="#FF00FF" stroke-width="1.6"/>
<circle cx="955.6" cy="1522.5" r="8" fill="#fff" stroke="#FF00FF" stroke-width="1.6"/>
<circle cx="989.4" cy="1521.5" r="8" fill="#fff" stroke="#FF00FF" stroke-width="1.6"/>
<circle cx="1023.1" cy="1534.0" r="8" fill="#fff" stroke="#FF00FF" stroke-width="1.6"/>
<circle cx="1056.9" cy="1558.6" r="8" fill="#fff" stroke="#FF00FF" stroke-width="1.6"/>
<circle cx="1090.7" cy="1583.0" r="8" fill="#fff" stroke="#FF00FF" stroke-width="1.6"/>
<circle cx="1124.6" cy="1601.1" r="8" fill="#fff" stroke="#FF00FF" stroke-width="1.6"/>
<circle cx="1158.2" cy="1612.2" r="8" fill="#fff" stroke="#FF00FF" stroke-width="1.6"/>
<circle cx="1194.2" cy="1618.9" r="8" fill="#fff" stroke="#FF00FF" stroke-width="1.6"/>
<circle cx="1227.8" cy="1621.1" r="8" fill="#fff" stroke="#FF00FF" stroke-width="1.6"/>
<circle cx="1264.0" cy="1621.2" r="8" fill="#fff" stroke="#FF00FF" stroke-width="1.6"/>
<circle cx="1297.7" cy="1623.6" r="8" fill="#fff" stroke="#FF00FF" stroke-width="1.6"/>
<circle cx="1333.9" cy="1625.8" r="8" fill="#fff" stroke="#FF00FF" stroke-width="1.6"/>
<circle cx="1367.7" cy="1628.9" r="8" fill="#fff" stroke="#FF00FF" stroke-width="1.6"/>
<circle cx="1403.4" cy="1630.0" r="8" fill="#fff" stroke="#FF00FF" stroke-width="1.6"/>
<circle cx="1437.0" cy="1629.2" r="8" fill="#fff" stroke="#FF00FF" stroke-width="1.6"/>
<circle cx="1470.8" cy="1629.7" r="8" fill="#fff" stroke="#FF00FF" stroke-width="1.6"/>
<circle cx="1506.7" cy="1632.2" r="8" fill="#fff" stroke="#FF00FF" stroke-width="1.6"/>
<circle cx="1540.6" cy="1634.1" r="8" fill="#fff" stroke="#FF00FF" stroke-width="1.6"/>
<circle cx="1574.5" cy="1640.4" r="8" fill="#fff" stroke="#FF00FF" stroke-width="1.6"/>
<circle cx="1610.2" cy="1645.8" r="8" fill="#fff" stroke="#FF00FF" stroke-width="1.6"/>
<circle cx="1644.4" cy="1649.3" r="8" fill="#fff" stroke="#FF00FF" stroke-width="1.6"/>
<circle cx="1678.3" cy="1652.0" r="8" fill="#fff" stroke="#FF00FF" stroke-width="1.6"/>
<circle cx="1714.0" cy="1654.5" r="8" fill="#fff" stroke="#FF00FF" stroke-width="1.6"/>
<circle cx="1747.7" cy="1656.3" r="8" fill="#fff" stroke="#FF00FF" stroke-width="1.6"/>
<circle cx="1784.6" cy="1656.5" r="8" fill="#fff" stroke="#FF00FF" stroke-width="1.6"/>
<circle cx="1820.8" cy="1658.5" r="8" fill="#fff" stroke="#FF00FF" stroke-width="1.6"/>
<circle cx="1856.3" cy="1659.0" r="8" fill="#fff" stroke="#FF00FF" stroke-width="1.6"/>
<circle cx="1892.4" cy="1659.0" r="8" fill="#fff" stroke="#FF00FF" stroke-width="1.6"/>
<circle cx="1929.3" cy="1659.5" r="8" fill="#fff" stroke="#FF00FF" stroke-width="1.6"/>
<circle cx="1964.8" cy="1660.0" r="8" fill="#fff" stroke="#FF00FF" stroke-width="1.6"/>
<circle cx="1999.3" cy="1660.5" r="8" fill="#fff" stroke="#FF00FF" stroke-width="1.6"/>
<circle cx="2035.7" cy="1660.5" r="8" fill="#fff" stroke="#FF00FF" stroke-width="1.6"/>
<circle cx="2071.3" cy="1660.5" r="8" fill="#fff" stroke="#FF00FF" stroke-width="1.6"/>
<circle cx="2107.6" cy="1660.5" r="8" fill="#fff" stroke="#FF00FF" stroke-width="1.6"/>
<circle cx="2141.0" cy="1660.5" r="8" fill="#fff" stroke="#FF00FF" stroke-width="1.6"/>
<circle cx="2177.4" cy="1660.5" r="8" fill="#fff" stroke="#FF00FF" stroke-width="1.6"/>
<circle cx="2213.0" cy="1660.5" r="8" fill="#fff" stroke="#FF00FF" stroke-width="1.6"/>
<circle cx="2249.4" cy="1660.5" r="8" fill="#fff" stroke="#FF00FF" stroke-width="1.6"/>
<circle cx="2285.8" cy="1660.5" r="8" fill="#fff" stroke="#FF00FF" stroke-width="1.6"/>
</g>
<g font-family="'Liberation Serif', 'DejaVu Serif', serif" font-size="62" fill="#000" stroke="#fff" stroke-width="1.0">
<text transform="translate(265.5,1671.3) scale(1,1.055)" text-anchor="end">0</text>
<text transform="translate(265.5,1474.7) scale(1,1.055)" text-anchor="end">50</text>
<text transform="translate(265.5,1275.0) scale(1,1.055)" text-anchor="end">100</text>
<text transform="translate(265.5,1077.8) scale(1,1.055)" text-anchor="end">150</text>
<text transform="translate(265.5,879.2) scale(1,1.055)" text-anchor="end">200</text>
<text transform="translate(265.5,681.7) scale(1,1.055)" text-anchor="end">250</text>
<text transform="translate(265.5,482.3) scale(1,1.055)" text-anchor="end">300</text>
<text transform="translate(265.5,285.0) scale(1,1.055)" text-anchor="end">350</text>
<text transform="translate(265.5,88.0) scale(1,1.055)" text-anchor="end">400</text>
<text transform="translate(609.0,1745) scale(1,1.055)" text-anchor="middle">200</text>
<text transform="translate(945.3,1745) scale(1,1.055)" text-anchor="middle">300</text>
<text transform="translate(1279.8,1745) scale(1,1.055)" text-anchor="middle">400</text>
<text transform="translate(1617.0,1745) scale(1,1.055)" text-anchor="middle">500</text>
<text transform="translate(1952.0,1745) scale(1,1.055)" text-anchor="middle">600</text>
<text transform="translate(2288.7,1745) scale(1,1.055)" text-anchor="middle">700</text>
</g>
<text x="1031" y="1868" font-family="'Liberation Serif', 'DejaVu Serif', serif" font-size="72" textLength="533" lengthAdjust="spacingAndGlyphs" stroke="#fff" stroke-width="0.7">Temperature (°C)</text>
<text transform="translate(94.5,1032.5) rotate(-90)" x="0" y="0" font-family="'Liberation Serif', 'DejaVu Serif', serif" font-size="72" textLength="335" lengthAdjust="spacingAndGlyphs" stroke="#fff" stroke-width="0.7">HRR (W/g)</text>
<g stroke-width="2">
<line x1="1522" y1="167" x2="1694" y2="167" stroke="#808000"/>
<line x1="1522" y1="261" x2="1597" y2="261" stroke="#B438FF"/>
<line x1="1617" y1="261" x2="1694" y2="261" stroke="#B438FF"/>
<rect x="1599" y="251" width="16" height="15" fill="#BC4CFF" stroke="none"/>
<line x1="1522" y1="353" x2="1597" y2="353" stroke="#FF00FF"/>
<line x1="1616" y1="353" x2="1694" y2="353" stroke="#FF00FF"/>
<circle cx="1608" cy="351.5" r="7.8" fill="#fff" stroke="#FF00FF" stroke-width="1.3"/>
</g>
<g font-family="'Liberation Serif', 'DejaVu Serif', serif" font-size="64.5" fill="#000">
<text x="1709.5" y="190.5" textLength="448" lengthAdjust="spacingAndGlyphs">DCM extractive</text>
<text x="1711" y="282" textLength="510" lengthAdjust="spacingAndGlyphs">Ethanol extractive</text>
<text x="1710" y="376.5" textLength="465" lengthAdjust="spacingAndGlyphs">Water extractive</text>
</g>
</svg>
</body></html>
